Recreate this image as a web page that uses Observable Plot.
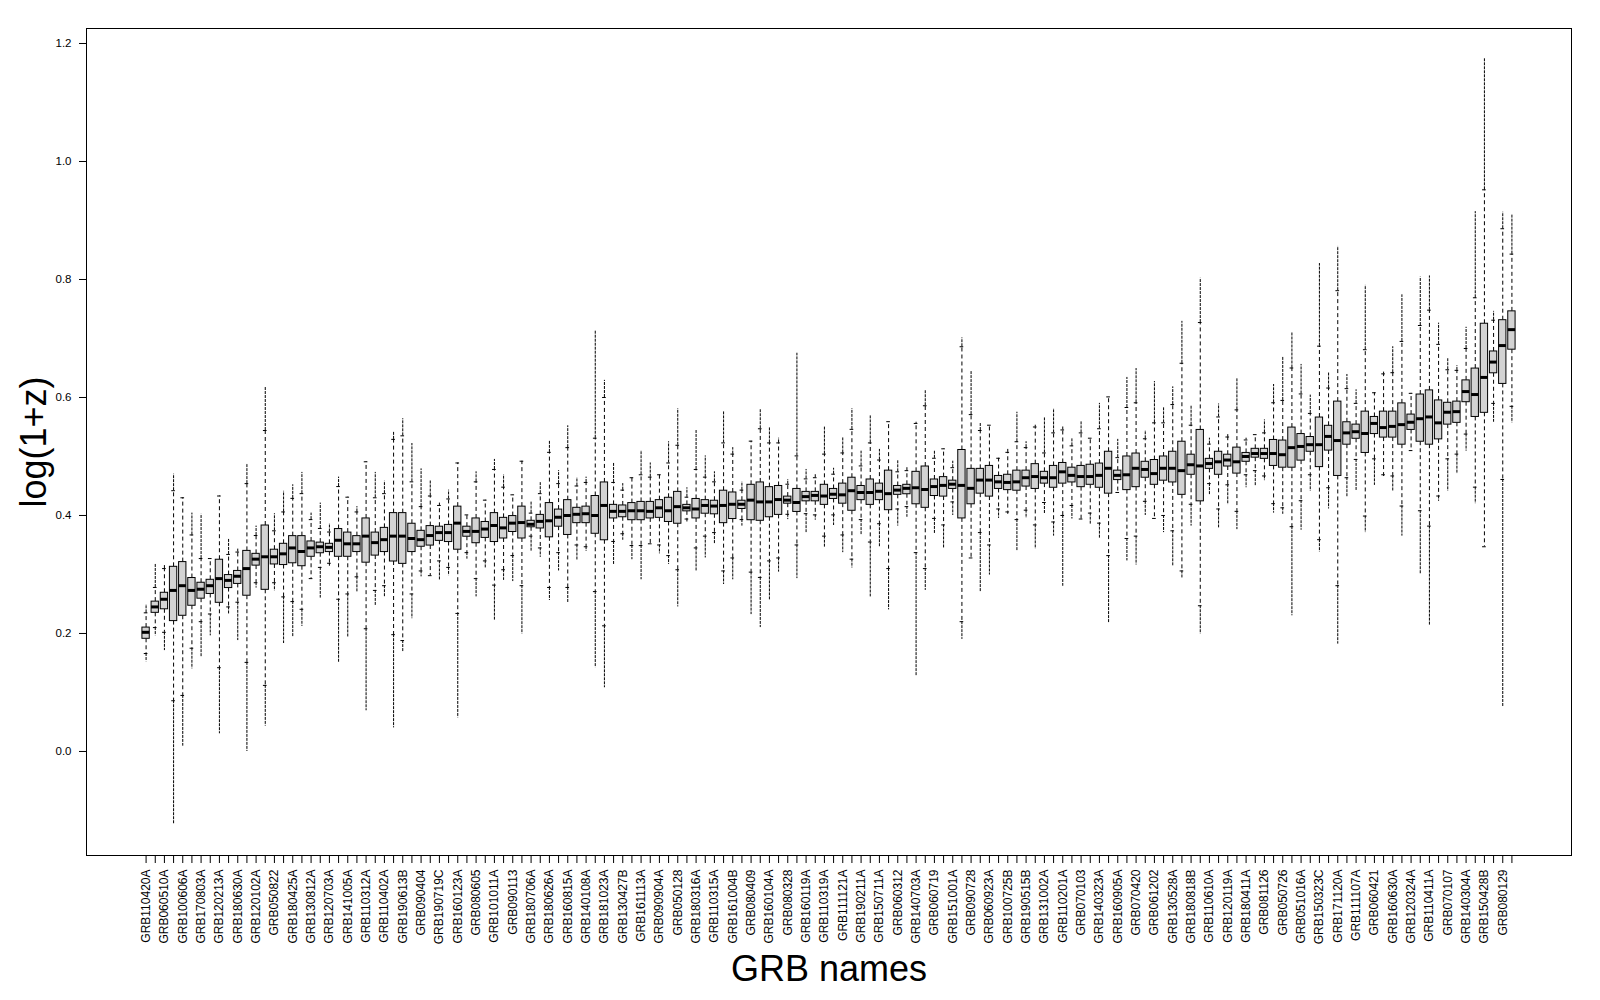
<!DOCTYPE html>
<html>
<head>
<meta charset="utf-8">
<script src="https://cdn.jsdelivr.net/npm/d3@7"></script>
<script src="https://cdn.jsdelivr.net/npm/@observablehq/plot@0.6"></script>
<style>
  html, body { margin: 0; padding: 0; background: #ffffff; }
</style>
</head>
<body>
<div id="chart"></div>
<script>
// Tick labels (every other box is labelled in the reference)
const labels = [
  "GRB110420A","GRB060510A","GRB100606A","GRB170803A","GRB120213A","GRB180630A","GRB120102A","GRB050822",
  "GRB180425A","GRB130812A","GRB120703A","GRB141005A","GRB110312A","GRB110402A","GRB190613B","GRB090404",
  "GRB190719C","GRB160123A","GRB080605","GRB101011A","GRB090113","GRB180706A","GRB180626A","GRB160815A",
  "GRB140108A","GRB181023A","GRB130427B","GRB161113A","GRB090904A","GRB050128","GRB180316A","GRB110315A",
  "GRB161004B","GRB080409","GRB160104A","GRB080328","GRB160119A","GRB110319A","GRB111121A","GRB190211A",
  "GRB150711A","GRB060312","GRB140703A","GRB060719","GRB151001A","GRB090728","GRB060923A","GRB100725B",
  "GRB190515B","GRB131002A","GRB110201A","GRB070103","GRB140323A","GRB160905A","GRB070420","GRB061202",
  "GRB130528A","GRB180818B","GRB110610A","GRB120119A","GRB180411A","GRB081126","GRB050726","GRB051016A",
  "GRB150323C","GRB171120A","GRB111107A","GRB060421","GRB160630A","GRB120324A","GRB110411A","GRB070107",
  "GRB140304A","GRB150428B","GRB080129"
];

// Box statistics, one entry per box (150 boxes, in plotted order)
const q1 = [
  0.191,0.235,0.241,0.221,0.230,0.247,0.259,0.267,0.252,0.277,0.284,0.264,0.315,0.274,0.317,0.316,0.319,0.314,0.330,0.336,
  0.338,0.330,0.330,0.338,0.320,0.332,0.338,0.322,0.318,0.338,0.347,0.349,0.357,0.355,0.342,0.364,0.353,0.362,0.355,0.361,
  0.372,0.361,0.380,0.378,0.363,0.381,0.367,0.387,0.387,0.369,0.358,0.395,0.397,0.392,0.392,0.395,0.396,0.389,0.386,0.407,
  0.395,0.403,0.402,0.387,0.394,0.411,0.392,0.391,0.397,0.401,0.420,0.406,0.424,0.424,0.418,0.428,0.420,0.408,0.426,0.418,
  0.426,0.409,0.435,0.436,0.419,0.413,0.433,0.432,0.445,0.395,0.419,0.437,0.432,0.445,0.443,0.442,0.449,0.445,0.454,0.447,
  0.454,0.456,0.448,0.452,0.447,0.437,0.460,0.443,0.448,0.464,0.452,0.459,0.456,0.435,0.469,0.424,0.479,0.469,0.483,0.471,
  0.491,0.498,0.496,0.484,0.481,0.481,0.493,0.508,0.482,0.510,0.467,0.520,0.530,0.506,0.538,0.532,0.532,0.520,0.545,0.525,
  0.520,0.529,0.554,0.557,0.592,0.567,0.574,0.641,0.623,0.681
];
const med = [
  0.202,0.245,0.258,0.273,0.281,0.273,0.275,0.281,0.293,0.290,0.297,0.310,0.326,0.330,0.330,0.335,0.345,0.339,0.345,0.347,
  0.346,0.358,0.352,0.352,0.365,0.354,0.359,0.365,0.365,0.361,0.359,0.366,0.371,0.371,0.387,0.373,0.373,0.377,0.383,0.379,
  0.387,0.388,0.385,0.390,0.391,0.397,0.400,0.402,0.403,0.400,0.417,0.407,0.407,0.408,0.408,0.407,0.413,0.408,0.415,0.413,
  0.411,0.417,0.416,0.417,0.419,0.419,0.426,0.423,0.423,0.427,0.426,0.422,0.432,0.434,0.433,0.436,0.435,0.442,0.439,0.439,
  0.441,0.437,0.443,0.446,0.447,0.444,0.449,0.451,0.453,0.451,0.446,0.460,0.460,0.457,0.456,0.457,0.464,0.466,0.464,0.464,
  0.474,0.468,0.466,0.466,0.468,0.480,0.468,0.469,0.480,0.478,0.471,0.480,0.480,0.476,0.486,0.484,0.488,0.491,0.494,0.491,
  0.500,0.505,0.505,0.505,0.503,0.515,0.517,0.520,0.520,0.534,0.527,0.540,0.542,0.539,0.556,0.549,0.551,0.554,0.558,0.564,
  0.567,0.557,0.575,0.576,0.610,0.605,0.634,0.660,0.688,0.715
];
const q3 = [
  0.210,0.254,0.269,0.313,0.321,0.294,0.286,0.291,0.325,0.299,0.306,0.340,0.335,0.383,0.342,0.352,0.365,0.365,0.356,0.354,
  0.352,0.377,0.371,0.365,0.395,0.371,0.379,0.404,0.404,0.386,0.374,0.382,0.381,0.384,0.415,0.381,0.395,0.389,0.404,0.396,
  0.399,0.415,0.391,0.401,0.421,0.410,0.426,0.413,0.415,0.433,0.456,0.418,0.417,0.421,0.423,0.423,0.426,0.430,0.440,0.418,
  0.428,0.426,0.425,0.442,0.439,0.425,0.452,0.456,0.448,0.450,0.432,0.445,0.440,0.440,0.452,0.445,0.454,0.464,0.450,0.461,
  0.454,0.476,0.450,0.452,0.474,0.483,0.461,0.465,0.459,0.511,0.479,0.479,0.484,0.467,0.469,0.476,0.476,0.487,0.474,0.484,
  0.489,0.481,0.484,0.486,0.488,0.508,0.476,0.500,0.505,0.491,0.494,0.500,0.508,0.525,0.503,0.545,0.496,0.508,0.503,0.515,
  0.506,0.513,0.513,0.528,0.527,0.549,0.538,0.533,0.566,0.552,0.593,0.558,0.554,0.576,0.567,0.576,0.576,0.590,0.571,0.605,
  0.612,0.595,0.591,0.593,0.629,0.649,0.725,0.678,0.731,0.746
];
const wlo = [
  0.166,0.210,0.202,0.086,0.095,0.175,0.220,0.233,0.142,0.245,0.253,0.151,0.286,0.112,0.286,0.262,0.254,0.241,0.293,0.312,
  0.319,0.258,0.267,0.296,0.208,0.273,0.281,0.198,0.188,0.267,0.306,0.298,0.323,0.312,0.234,0.337,0.293,0.323,0.282,0.308,
  0.332,0.281,0.365,0.345,0.278,0.337,0.278,0.350,0.347,0.271,0.213,0.356,0.369,0.349,0.349,0.352,0.350,0.332,0.308,0.394,
  0.345,0.365,0.371,0.306,0.328,0.393,0.304,0.295,0.323,0.328,0.402,0.350,0.403,0.401,0.365,0.401,0.367,0.326,0.393,0.355,
  0.386,0.310,0.411,0.415,0.337,0.310,0.395,0.384,0.423,0.220,0.328,0.371,0.350,0.411,0.406,0.393,0.409,0.384,0.422,0.389,
  0.400,0.417,0.394,0.404,0.387,0.332,0.439,0.361,0.365,0.424,0.395,0.400,0.374,0.306,0.419,0.247,0.454,0.411,0.452,0.407,
  0.469,0.476,0.467,0.420,0.413,0.381,0.425,0.469,0.359,0.447,0.281,0.464,0.495,0.399,0.496,0.469,0.467,0.416,0.510,0.408,
  0.382,0.433,0.496,0.504,0.538,0.448,0.347,0.590,0.461,0.585
];
const whi = [
  0.235,0.278,0.310,0.442,0.430,0.367,0.327,0.327,0.433,0.334,0.338,0.454,0.366,0.544,0.374,0.406,0.429,0.437,0.393,0.378,
  0.372,0.449,0.431,0.406,0.491,0.430,0.437,0.529,0.535,0.457,0.415,0.433,0.417,0.428,0.489,0.401,0.457,0.426,0.478,0.448,
  0.435,0.492,0.404,0.437,0.507,0.454,0.515,0.450,0.456,0.531,0.600,0.456,0.443,0.464,0.469,0.465,0.469,0.489,0.519,0.431,
  0.478,0.465,0.457,0.523,0.504,0.443,0.526,0.547,0.523,0.523,0.453,0.501,0.462,0.464,0.504,0.470,0.506,0.546,0.484,0.523,
  0.494,0.559,0.474,0.476,0.556,0.586,0.497,0.513,0.481,0.686,0.571,0.544,0.553,0.497,0.507,0.525,0.515,0.550,0.506,0.540,
  0.545,0.518,0.540,0.531,0.547,0.601,0.498,0.583,0.591,0.530,0.557,0.557,0.588,0.658,0.553,0.727,0.521,0.567,0.533,0.579,
  0.528,0.537,0.540,0.591,0.595,0.650,0.606,0.573,0.687,0.616,0.781,0.615,0.590,0.681,0.608,0.640,0.642,0.695,0.607,0.722,
  0.748,0.690,0.647,0.646,0.683,0.769,0.952,0.731,0.886,0.843
];
// Most extreme outliers below / above the whiskers (null = none)
const omin = [
  0.152,0.196,0.171,-0.124,0.009,0.140,0.160,0.196,0.030,0.232,0.188,0.000,0.277,0.043,0.272,0.183,0.194,0.212,null,0.260,
  0.314,0.151,0.194,0.270,0.069,0.246,0.261,0.040,0.168,0.225,0.296,null,0.290,0.298,0.057,0.326,0.262,0.311,0.221,0.290,
  0.288,0.199,0.339,0.329,0.256,0.306,0.251,0.323,0.339,0.142,0.108,0.316,0.358,0.325,0.291,null,0.335,0.317,0.245,0.389,
  0.306,0.328,0.352,0.283,0.291,0.382,0.232,0.210,0.257,0.304,0.393,0.293,0.371,0.392,0.345,0.383,0.337,0.311,0.366,0.262,
  0.347,0.240,0.382,0.397,0.127,0.273,0.369,0.345,0.400,0.190,null,0.270,0.299,0.395,0.402,0.339,0.395,0.343,0.402,0.365,
  0.280,0.394,null,0.384,0.361,0.217,null,0.323,0.316,0.400,null,0.371,0.314,0.293,0.382,0.199,0.435,0.379,0.418,0.376,
  0.447,0.449,0.459,0.404,0.402,0.230,0.375,0.441,0.338,0.411,0.182,0.431,0.441,0.371,0.451,0.466,0.440,0.365,null,0.301,
  0.214,0.424,0.441,0.470,0.509,0.420,null,0.558,0.075,0.557
];
const omax = [
  0.249,0.317,0.316,0.470,null,0.404,0.402,null,null,0.361,0.343,0.488,0.382,0.618,0.403,0.441,0.452,0.473,0.404,0.421,
  0.386,0.465,null,0.415,null,0.473,0.458,0.542,0.564,0.522,0.479,0.460,0.421,0.443,null,null,0.474,null,0.495,0.469,
  null,null,0.423,0.457,0.527,0.476,0.552,0.464,0.465,0.713,0.629,0.489,0.454,null,0.510,0.489,null,0.525,0.581,0.447,
  0.544,0.501,0.474,0.577,0.515,0.457,null,0.580,0.550,0.531,0.461,0.675,0.478,0.470,0.550,0.480,0.533,0.581,0.509,0.570,
  0.512,null,0.494,0.481,0.558,0.612,0.509,null,0.492,0.701,0.645,0.556,null,null,0.512,0.575,0.525,0.553,0.566,0.581,
  0.550,0.531,0.559,null,0.590,null,0.529,0.634,0.649,0.544,0.627,0.583,0.618,0.729,0.586,0.802,0.531,0.589,0.537,0.633,
  0.531,null,0.562,0.622,0.669,0.710,0.656,0.604,0.827,0.642,0.856,0.639,0.613,0.790,null,0.643,0.686,0.774,null,0.804,
  0.806,0.726,0.666,0.654,0.719,0.915,1.175,0.746,0.914,0.910
];

const yTicks = [0.0, 0.2, 0.4, 0.6, 0.8, 1.0, 1.2];
const boxIndex = d3.range(1, q1.length + 1);

const rows = boxIndex.map((i, k) => ({
  i, q1: q1[k], med: med[k], q3: q3[k], wlo: wlo[k], whi: whi[k], omin: omin[k], omax: omax[k]
}));

const n = rows.length;
const pad = 0.04 * n;

const chart = Plot.plot({
  width: 1600,
  height: 1000,
  marginLeft: 86,
  marginRight: 29,
  marginTop: 28,
  marginBottom: 145,
  x: { type: "linear", domain: [0.5 - pad, n + 0.5 + pad], label: null },
  y: { domain: [-0.1763, 1.2254], label: null },
  style: { fontFamily: "'Liberation Sans', Arial, Helvetica, sans-serif", background: "#ffffff", color: "#000000" },
  marks: [
    // outliers (dense points) beyond the whiskers
    Plot.ruleX(rows.filter(d => d.omax != null), { x: "i", y1: "whi", y2: "omax", stroke: "#000", strokeWidth: 1, strokeDasharray: "3,1" }),
    Plot.ruleX(rows.filter(d => d.omin != null), { x: "i", y1: "wlo", y2: "omin", stroke: "#000", strokeWidth: 1, strokeDasharray: "3,1" }),
    // dashed whiskers
    Plot.ruleX(rows, { x: "i", y1: "q3", y2: "whi", stroke: "#000", strokeWidth: 1, strokeDasharray: "4,3" }),
    Plot.ruleX(rows, { x: "i", y1: "q1", y2: "wlo", stroke: "#000", strokeWidth: 1, strokeDasharray: "4,3" }),
    // staples
    Plot.ruleY(rows, { y: "whi", x1: d => d.i - 0.2, x2: d => d.i + 0.2, stroke: "#000", strokeWidth: 1 }),
    Plot.ruleY(rows, { y: "wlo", x1: d => d.i - 0.2, x2: d => d.i + 0.2, stroke: "#000", strokeWidth: 1 }),
    // boxes
    Plot.rect(rows, { x1: d => d.i - 0.4, x2: d => d.i + 0.4, y1: "q1", y2: "q3", fill: "#d3d3d3", stroke: "#000", strokeWidth: 1 }),
    // medians
    Plot.ruleY(rows, { y: "med", x1: d => d.i - 0.4, x2: d => d.i + 0.4, stroke: "#000", strokeWidth: 3 }),
    Plot.frame({ stroke: "#000", strokeWidth: 1 }),
    Plot.axisY({ ticks: yTicks, tickFormat: d3.format(".1f"), tickSize: 7, tickPadding: 8, fontSize: 11.5, label: null }),
    Plot.axisX({
      ticks: boxIndex,
      tickFormat: i => (i % 2 === 1 ? labels[(i - 1) / 2] : ""),
      tickSize: 8, tickPadding: 6, tickRotate: -90, fontSize: 12, label: null
    }),
    Plot.text(["log(1+z)"], { text: d => d, frameAnchor: "left", dx: -52, rotate: -90, textAnchor: "middle", lineAnchor: "middle", fontSize: 36 }),
    Plot.text(["GRB names"], { text: d => d, frameAnchor: "bottom", dy: 114, textAnchor: "middle", lineAnchor: "middle", fontSize: 36 })
  ]
});

document.getElementById("chart").append(chart);
</script>
</body>
</html>
